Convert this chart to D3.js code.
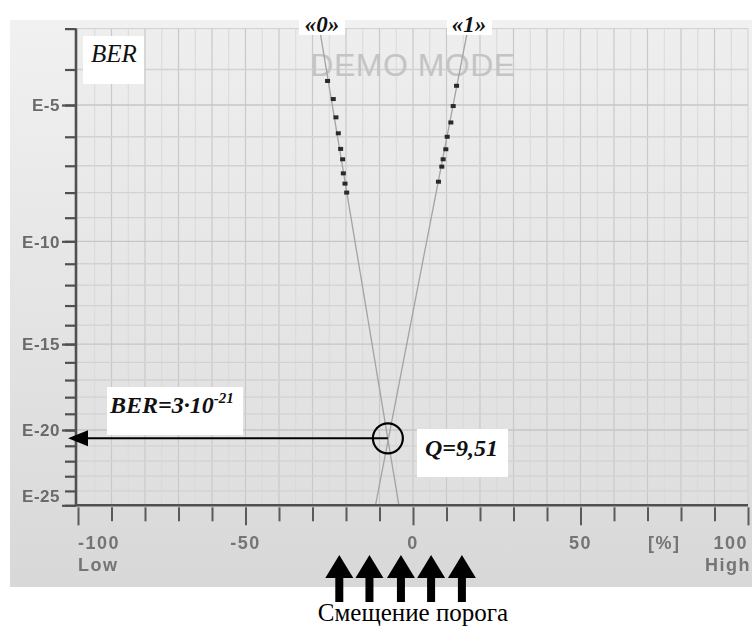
<!DOCTYPE html>
<html><head><meta charset="utf-8">
<script src="https://cdn.jsdelivr.net/npm/d3@7"></script>
<style>html,body{margin:0;padding:0;background:#fff;} svg{display:block}</style>
</head><body>
<svg id="chart" width="752" height="629"></svg>
<script>
// ---- data ----
const zeroThreshold = [-25.5, -23.8, -23.0, -22.3, -21.6, -21.0, -20.8, -20.3, -19.8];
const zeroBER       = [4.9e-5, 1.5e-5, 4.2e-6, 1.3e-6, 3.9e-7, 1.7e-7, 5.3e-8, 2.2e-8, 1.0e-8];
const oneThreshold  = [13.0, 12.0, 11.3, 10.2, 9.8, 9.0, 8.6, 7.6];
const oneBER        = [3.6e-5, 9.3e-6, 2.9e-6, 1.0e-6, 3.8e-7, 1.7e-7, 9.3e-8, 2.6e-8];
const fitBER           = [1e-3, 1e-25];
const zeroFitThreshold = [-27.9, -4.2];
const oneFitThreshold  = [16.4, -11.2];
const crossThreshold = -7.5;
const crossBER = 3e-21;
const yExponents = d3.range(3, 26);
const yLabelExponents = [5, 10, 15, 20, 25];
const xTicks = d3.range(-100, 101, 10);
const xTickLabels = ["-100", "-50", "0", "50", "100"];
const xTickLabelValues = [-100, -50, 0, 50, 100];
const arrowThresholds = [-22, -13, -3.6, 5.4, 14.6];
const texts = {ber: "BER", zero: "«0»", one: "«1»", demo: "DEMO MODE", berVal: "BER=3·10", berExp: "-21",
  q: "Q=9,51", low: "Low", high: "High", pct: "[%]", caption: "Смещение порога"};

// inverse normal CDF (Acklam) -> Q value of a BER
function normInv(p){
  const a=[-3.969683028665376e+01,2.209460984245205e+02,-2.759285104469687e+02,1.383577518672690e+02,-3.066479806614716e+01,2.506628277459239e+00];
  const b=[-5.447609879822406e+01,1.615858368580409e+02,-1.556989798598866e+02,6.680131188771972e+01,-1.328068155288572e+01];
  const c=[-7.784894002430293e-03,-3.223964580411365e-01,-2.400758277161838e+00,-2.549732539343734e+00,4.374664141464968e+00,2.938163982698783e+00];
  const d=[7.784695709041462e-03,3.224671290700398e-01,2.445134137142996e+00,3.754408661907416e+00];
  const pl=0.02425;
  if(p<pl){const q=Math.sqrt(-2*Math.log(p));
    return (((((c[0]*q+c[1])*q+c[2])*q+c[3])*q+c[4])*q+c[5])/((((d[0]*q+d[1])*q+d[2])*q+d[3])*q+1);}
  if(p<=1-pl){const q=p-0.5,r=q*q;
    return (((((a[0]*r+a[1])*r+a[2])*r+a[3])*r+a[4])*r+a[5])*q/(((((b[0]*r+b[1])*r+b[2])*r+b[3])*r+b[4])*r+1);}
  const q=Math.sqrt(-2*Math.log(1-p));
  return -(((((c[0]*q+c[1])*q+c[2])*q+c[3])*q+c[4])*q+c[5])/((((d[0]*q+d[1])*q+d[2])*q+d[3])*q+1);
}
const qOf = ber => -normInv(ber);

// ---- scales ----
const x = d3.scaleLinear().domain([-100, 100]).range([78, 748]);
const yQ = d3.scaleLinear().domain([qOf(1e-5), qOf(1e-20)]).range([105, 430]);
const y = ber => yQ(qOf(ber));

const svg = d3.select("#chart");
const defs = svg.append("defs");
const g1 = defs.append("linearGradient").attr("id","panelGrad").attr("x1",0).attr("y1",0).attr("x2",0).attr("y2",1);
g1.append("stop").attr("offset","0%").attr("stop-color","#f1f1f1");
g1.append("stop").attr("offset","100%").attr("stop-color","#d8d8d8");
const g2 = defs.append("linearGradient").attr("id","plotGrad").attr("x1",0).attr("y1",0).attr("x2",0).attr("y2",1);
g2.append("stop").attr("offset","0%").attr("stop-color","#eeeeee");
g2.append("stop").attr("offset","100%").attr("stop-color","#dfdfdf");
defs.append("filter").attr("id","soft").append("feGaussianBlur").attr("stdDeviation",0.5);

const plotTop = y(1e-3), plotBottom = y(1e-25), plotLeft = x(-100) - 2, plotRight = x(100);

// panel
svg.append("rect").attr("x",10).attr("y",20).attr("width",742).attr("height",567).attr("fill","url(#panelGrad)");
svg.append("rect").attr("x",plotLeft).attr("y",plotTop).attr("width",plotRight-plotLeft).attr("height",plotBottom-plotTop)
  .attr("fill","url(#plotGrad)").attr("stroke","#d0d0d0").attr("stroke-width",1);

// grid
const grid = svg.append("g");
grid.selectAll("line.vminor").data(d3.range(-95, 100, 10)).join("line")
  .attr("x1", d=>x(d)).attr("x2", d=>x(d)).attr("y1", plotTop).attr("y2", plotBottom)
  .attr("stroke","#d9d9d9").attr("stroke-width",1);
grid.selectAll("line.vmajor").data(d3.range(-90, 100, 10)).join("line")
  .attr("x1", d=>x(d)).attr("x2", d=>x(d)).attr("y1", plotTop).attr("y2", plotBottom)
  .attr("stroke","#c9c9c9").attr("stroke-width",1.2);
grid.selectAll("line.h").data(yExponents.slice(1, -1)).join("line")
  .attr("x1", plotLeft).attr("x2", plotRight).attr("y1", d=>y(Math.pow(10,-d))).attr("y2", d=>y(Math.pow(10,-d)))
  .attr("stroke", d => d%5===0 ? "#c6c6c6" : "#d2d2d2").attr("stroke-width",1.3);

// watermark
svg.append("text").attr("x", x(0)).attr("y", 76).attr("text-anchor","middle")
  .attr("font-family","Liberation Sans, Arial, sans-serif").attr("font-size",32).attr("letter-spacing",0.5)
  .attr("fill","#c4c4c4").text(texts.demo);

// fit lines
const fitLine = d3.line().x(d=>x(d[0])).y(d=>y(d[1]));
[zeroFitThreshold, oneFitThreshold].forEach(th => {
  svg.append("path").datum(th.map((t,i)=>[t, fitBER[i]])).attr("d", fitLine)
    .attr("fill","none").attr("stroke","#a3a3a3").attr("stroke-width",1.3);
});

// points
const pts = zeroThreshold.map((t,i)=>[t, zeroBER[i]]).concat(oneThreshold.map((t,i)=>[t, oneBER[i]]));
svg.append("g").attr("filter","url(#soft)").selectAll("rect").data(pts).join("rect")
  .attr("x", d=>x(d[0])-2.5).attr("y", d=>y(d[1])-2).attr("width",5).attr("height",4).attr("fill","#2b2b2b");

// axes
const axisColor = "#505050";
const sans = "Liberation Sans, Arial, sans-serif";
const yMinor = svg.append("g").attr("transform",`translate(${x(-100)-2},0)`)
  .call(d3.axisLeft(yQ).tickValues(yExponents.map(e=>qOf(Math.pow(10,-e)))).tickSize(11).tickFormat(""));
yMinor.select(".domain").remove();
yMinor.selectAll(".tick line").attr("stroke",axisColor).attr("stroke-width",2.2);
const yMajor = svg.append("g").attr("transform",`translate(${x(-100)-2},0)`)
  .call(d3.axisLeft(yQ).tickValues(yLabelExponents.map(e=>qOf(Math.pow(10,-e)))).tickSize(14).tickPadding(2)
    .tickFormat(d => "E-" + yLabelExponents.find(e => Math.abs(qOf(Math.pow(10,-e))-d)<1e-9)));
yMajor.select(".domain").remove();
yMajor.selectAll(".tick line").attr("stroke",axisColor).attr("stroke-width",2.2);
yMajor.selectAll(".tick text").attr("font-family",sans).attr("font-size",17).attr("font-weight","bold")
  .attr("letter-spacing",0.5).attr("fill","#6a6a6a").attr("filter","url(#soft)")
  .attr("dy", (d,i) => i === yLabelExponents.length-1 ? "-0.22em" : "0.34em");
svg.append("line").attr("x1", x(-100)-2).attr("x2", x(-100)-2).attr("y1", plotTop).attr("y2", plotBottom+1)
  .attr("stroke",axisColor).attr("stroke-width",2.6);

const xAx = svg.append("g").attr("transform",`translate(0,${plotBottom+2})`)
  .call(d3.axisBottom(x).tickValues(xTicks).tickSize(14).tickFormat(""));
xAx.select(".domain").remove();
xAx.selectAll(".tick line").attr("stroke","#5a5a5a").attr("stroke-width",2)
  .attr("y2", d => d%50===0 ? 18 : 14);
svg.append("line").attr("x1", x(-100)-3).attr("x2", plotRight).attr("y1", plotBottom).attr("y2", plotBottom)
  .attr("stroke",axisColor).attr("stroke-width",2.6);

const xl = svg.append("g").attr("font-family",sans).attr("font-size",18).attr("font-weight","bold").attr("letter-spacing",1.5)
  .attr("fill","#747474").attr("filter","url(#soft)");
xl.selectAll("text.t").data(xTickLabelValues).join("text")
  .attr("x", d=>x(d)).attr("y", 549)
  .attr("text-anchor", d => d===-100 ? "start" : d===100 ? "end" : "middle")
  .text((d,i)=>xTickLabels[i]);
xl.append("text").attr("x", x(-100)).attr("y",571).text(texts.low);
xl.append("text").attr("x", x(100)+3).attr("y",571).attr("text-anchor","end").text(texts.high);
xl.append("text").attr("x", x(75)).attr("y",549).attr("text-anchor","middle").text(texts.pct);

// labels in white boxes
const serif = "Liberation Serif, Times New Roman, serif";
function box(x0,y0,w,h){ svg.append("rect").attr("x",x0).attr("y",y0).attr("width",w).attr("height",h).attr("fill","#fff"); }
box(83,36,61,48);
svg.append("text").attr("x",114).attr("y",62).attr("text-anchor","middle").attr("font-family",serif)
  .attr("font-style","italic").attr("font-size",25).attr("fill","#111").text(texts.ber);
box(299,15,46,20);
svg.append("text").attr("x",322).attr("y",32).attr("text-anchor","middle").attr("font-family",serif)
  .attr("font-style","italic").attr("font-weight","bold").attr("font-size",23).attr("fill","#111").text(texts.zero);
box(447,15,45,20);
svg.append("text").attr("x",469).attr("y",32).attr("text-anchor","middle").attr("font-family",serif)
  .attr("font-style","italic").attr("font-weight","bold").attr("font-size",23).attr("fill","#111").text(texts.one);

box(107,387,136,48);
const bt = svg.append("text").attr("x",110).attr("y",413).attr("font-family",serif)
  .attr("font-style","italic").attr("font-weight","bold").attr("font-size",24).attr("fill","#111");
bt.append("tspan").text(texts.berVal);
bt.append("tspan").attr("dy",-10).attr("font-size",15).text(texts.berExp);

box(417,429,91,48);
svg.append("text").attr("x",425).attr("y",456).attr("font-family",serif)
  .attr("font-style","italic").attr("font-weight","bold").attr("font-size",24).attr("fill","#111").text(texts.q);

// crossing marker + arrow to axis
const cx = x(crossThreshold), cy = y(crossBER);
svg.append("line").attr("x1",cx).attr("x2",x(-100)+8).attr("y1",cy).attr("y2",cy).attr("stroke","#000").attr("stroke-width",2);
svg.append("path").attr("d",`M${x(-100)-10},${cy} L${x(-100)+10},${cy-8} L${x(-100)+10},${cy+8} Z`).attr("fill","#000");
svg.append("circle").attr("cx",cx).attr("cy",cy).attr("r",15).attr("fill","none").attr("stroke","#000").attr("stroke-width",2.2);

// threshold arrows
const arr = svg.append("g");
arrowThresholds.forEach(t => {
  const ax = x(t);
  arr.append("path").attr("d",`M${ax},555 L${ax+14},578 L${ax+4},578 L${ax+4},602 L${ax-4},602 L${ax-4},578 L${ax-14},578 Z`).attr("fill","#000");
});
svg.append("text").attr("x",x(0)).attr("y",621).attr("text-anchor","middle").attr("font-family",serif)
  .attr("font-size",25).attr("fill","#000").text(texts.caption);
</script>
</body></html>
